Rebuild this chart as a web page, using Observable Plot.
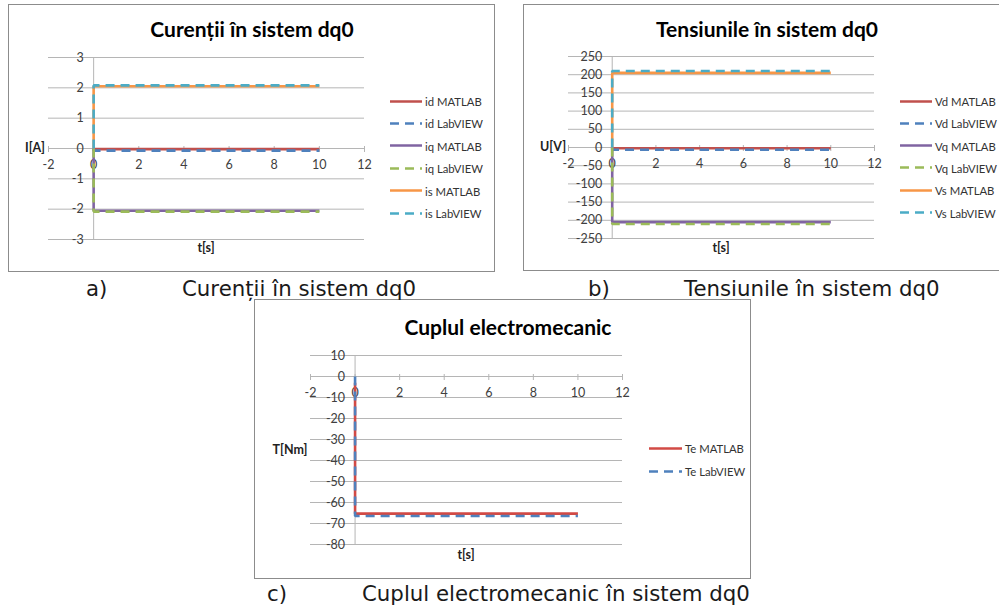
<!DOCTYPE html>
<html>
<head>
<meta charset="utf-8">
<script src="https://cdn.jsdelivr.net/npm/d3@7"></script>
<script src="https://cdn.jsdelivr.net/npm/@observablehq/plot@0.6"></script>
<style>
  html, body { margin: 0; padding: 0; background: #fff; overflow: hidden; }
  #page { position: relative; width: 999px; height: 607px; overflow: hidden; background: #fff; }
  .box { position: absolute; box-sizing: border-box; border: 1px solid #8c8c8c; background: #fff; }
  .ctr { position: absolute; transform: translate(-50%, -50%); line-height: 1; white-space: nowrap; }
  .title { font-family: Lato, "Liberation Sans", sans-serif; font-weight: bold; font-size: 21px; color: #000; }
  .atitle { font-family: Lato, "Liberation Sans", sans-serif; font-weight: bold; font-size: 12.5px; color: #222; }
  .leg { position: absolute; display: flex; align-items: center; font-family: Lato, "Liberation Sans", sans-serif; font-size: 11.3px; color: #333; white-space: nowrap; transform: translateY(-50%); }
  .leg svg { margin-right: 3px; }
  .cap { position: absolute; transform: translateY(-50%); font-family: "DejaVu Sans", Verdana, sans-serif; font-size: 21.3px; color: #1a1a1a; line-height: 1; white-space: nowrap; }
</style>
</head>
<body>
<div id="page"></div>
<script>
// ---------- DATA ----------
const xTicks = [-2, 0, 2, 4, 6, 8, 10, 12];

// a) Curenții în sistem dq0
const timeA = [0, 0, 10];
const idMatlab = [0, -0.02, -0.02];
const idLabview = [0, -0.07, -0.07];
const iqMatlab = [0, -2.05, -2.05];
const iqLabview = [0, -2.08, -2.08];
const isMatlab = [0, 2.05, 2.05];
const isLabview = [0, 2.08, 2.08];
const namesA = ["id MATLAB", "id LabVIEW", "iq MATLAB", "iq LabVIEW", "is MATLAB", "is LabVIEW"];
const yTicksA = [3, 2, 1, 0, -1, -2, -3];

// b) Tensiunile în sistem dq0
const timeB = [0, 0, 10];
const vdMatlab = [0, -2, -2];
const vdLabview = [0, -6, -6];
const vqMatlab = [0, -205, -205];
const vqLabview = [0, -210, -210];
const vsMatlab = [0, 205, 205];
const vsLabview = [0, 210, 210];
const namesB = ["Vd MATLAB", "Vd LabVIEW", "Vq MATLAB", "Vq LabVIEW", "Vs MATLAB", "Vs LabVIEW"];
const yTicksB = [250, 200, 150, 100, 50, 0, -50, -100, -150, -200, -250];

// c) Cuplul electromecanic
const timeC = [0, 0, 10];
const teMatlab = [-3, -65.3, -65.3];
const teLabview = [0, -66.4, -66.4];
const namesC = ["Te MATLAB", "Te LabVIEW"];
const yTicksC = [10, 0, -10, -20, -30, -40, -50, -60, -70, -80];

// ---------- STYLES ----------
const colorsA = ["#C0504D", "#4F81BD", "#8064A2", "#9BBB59", "#F79646", "#4BACC6"];
const dashedA = [false, true, false, true, false, true];
const colorsC = ["#D24A45", "#4F81BD"];
const dashedC = [false, true];
const DASH = "9,6";
const LW = 2.6;
const GRID = "#b5b5b5";

const page = document.getElementById("page");

function el(tag, cls, css, text) {
  const e = document.createElement(tag);
  if (cls) e.className = cls;
  Object.assign(e.style, css || {});
  if (text != null) e.textContent = text;
  page.appendChild(e);
  return e;
}

function tidy(time, values) {
  return time.map((t, i) => ({t, v: values[i]}));
}

function chart(cfg) {
  const {left, top, width, height, mL, mR, mT, mB, yDomain, yTicks, series, names, colors, dashed} = cfg;
  const yPerPx = (yDomain[1] - yDomain[0]) / (height - mT - mB);
  const tickLen = 4 * yPerPx;
  const marks = [
    Plot.ruleY(yTicks, {stroke: GRID, strokeWidth: 1}),
    Plot.ruleX([0], {stroke: GRID, strokeWidth: 1}),
    Plot.ruleX(xTicks, {x: d => d, y1: tickLen * 0.5, y2: -tickLen, stroke: GRID, strokeWidth: 1}),
    Plot.text(xTicks, {x: d => d, y: 0, dy: 16, text: d => String(d), fill: "#404040", fontSize: 12.5, fontFamily: "Lato"}),
    Plot.text(yTicks, {x: 0, y: d => d, dx: -10, textAnchor: "end", text: d => String(d), fill: "#404040", fontSize: 12.5, fontFamily: "Lato"})
  ];
  series.forEach((s, i) => {
    marks.push(Plot.line(tidy(s.time, s.values), {
      x: "t", y: "v", stroke: colors[i], strokeWidth: LW,
      strokeDasharray: dashed[i] ? DASH : null, strokeLinecap: "butt", strokeLinejoin: "miter"
    }));
  });
  const svg = Plot.plot({
    width, height, marginLeft: mL, marginRight: mR, marginTop: mT, marginBottom: mB,
    x: {domain: [-2, 12], axis: null},
    y: {domain: yDomain, axis: null},
    style: {background: "transparent", overflow: "visible", fontFamily: "Lato"},
    marks
  });
  svg.style.position = "absolute";
  svg.style.left = left + "px";
  svg.style.top = top + "px";
  page.appendChild(svg);

  el("div", "ctr title", {left: cfg.title[1] + "px", top: cfg.title[2] + "px"}, cfg.title[0]);
  el("div", "ctr atitle", {left: cfg.yTitle[1] + "px", top: cfg.yTitle[2] + "px"}, cfg.yTitle[0]);
  el("div", "ctr atitle", {left: cfg.xTitle[1] + "px", top: cfg.xTitle[2] + "px"}, cfg.xTitle[0]);

  names.forEach((n, i) => {
    const row = el("div", "leg", {left: cfg.legX + "px", top: (cfg.legY + i * cfg.legStep) + "px"});
    const sw = document.createElementNS("http://www.w3.org/2000/svg", "svg");
    sw.setAttribute("width", cfg.legW);
    sw.setAttribute("height", 6);
    const ln = document.createElementNS("http://www.w3.org/2000/svg", "line");
    ln.setAttribute("x1", 0); ln.setAttribute("x2", cfg.legW);
    ln.setAttribute("y1", 3); ln.setAttribute("y2", 3);
    ln.setAttribute("stroke", colors[i]);
    ln.setAttribute("stroke-width", LW);
    if (dashed[i]) ln.setAttribute("stroke-dasharray", DASH);
    sw.appendChild(ln);
    row.appendChild(sw);
    const sp = document.createElement("span");
    sp.textContent = n;
    row.appendChild(sp);
  });
}

el("div", "box", {left: "8px", top: "4px", width: "487px", height: "268px"});
el("div", "box", {left: "523px", top: "4px", width: "490px", height: "267px"});
el("div", "box", {left: "254px", top: "299px", width: "497px", height: "280px"});

chart({
  left: 9, top: 5, width: 485, height: 266, mL: 39, mR: 130, mT: 52, mB: 32,
  yDomain: [-3, 3], yTicks: yTicksA,
  series: [idMatlab, idLabview, iqMatlab, iqLabview, isMatlab, isLabview].map(v => ({time: timeA, values: v})),
  names: namesA, colors: colorsA, dashed: dashedA,
  title: ["Curenții în sistem dq0", 252, 28],
  yTitle: ["I[A]", 35, 148], xTitle: ["t[s]", 206, 248],
  legX: 390, legY: 101, legStep: 22.4, legW: 32
});

chart({
  left: 524, top: 5, width: 475, height: 265, mL: 44, mR: 125, mT: 51, mB: 32,
  yDomain: [-250, 250], yTicks: yTicksB,
  series: [vdMatlab, vdLabview, vqMatlab, vqLabview, vsMatlab, vsLabview].map(v => ({time: timeB, values: v})),
  names: namesB, colors: colorsA, dashed: dashedA,
  title: ["Tensiunile în sistem dq0", 767, 28],
  yTitle: ["U[V]", 553, 147], xTitle: ["t[s]", 721, 248],
  legX: 900, legY: 101, legStep: 22.3, legW: 32
});

chart({
  left: 255, top: 300, width: 495, height: 278, mL: 55, mR: 128, mT: 55, mB: 34,
  yDomain: [-80, 10], yTicks: yTicksC,
  series: [teMatlab, teLabview].map(v => ({time: timeC, values: v})),
  names: namesC, colors: colorsC, dashed: dashedC,
  title: ["Cuplul electromecanic", 508, 326],
  yTitle: ["T[Nm]", 290, 450], xTitle: ["t[s]", 466, 555],
  legX: 649, legY: 448, legStep: 23, legW: 33
});

el("div", "cap", {left: "86px", top: "289px"}, "a)");
el("div", "cap", {left: "182px", top: "289px"}, "Curenții în sistem dq0");
el("div", "cap", {left: "588px", top: "289px"}, "b)");
el("div", "cap", {left: "684px", top: "289px"}, "Tensiunile în sistem dq0");
el("div", "cap", {left: "267px", top: "594px"}, "c)");
el("div", "cap", {left: "362px", top: "594px"}, "Cuplul electromecanic în sistem dq0");
</script>
</body>
</html>
